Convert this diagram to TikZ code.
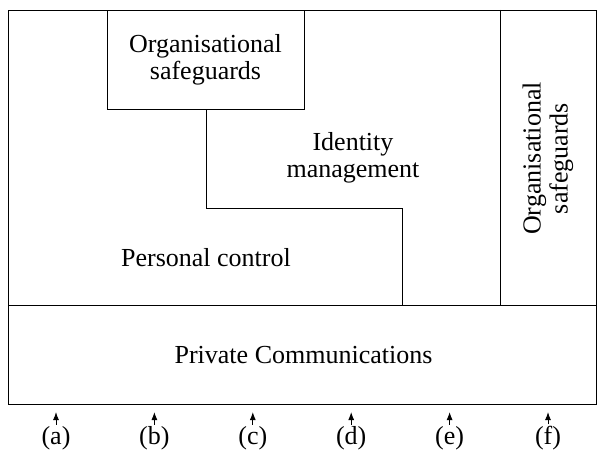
\documentclass[tikz,border=0pt]{standalone}
\usepackage{fontspec}
\setmainfont{Liberation Serif}
\usetikzlibrary{arrows.meta}
\begin{document}
\begin{tikzpicture}[x=1pt,y=-1pt,
  line/.style={draw=black,line width=0.9pt},
  txt/.style={font=\fontsize{26}{27}\selectfont,align=center,inner sep=0pt},
  lbl/.style={font=\fontsize{26}{27}\selectfont,inner sep=1pt,anchor=base},
  arr/.style={-{Latex[length=8pt,width=6pt]},line width=1pt}]
\useasboundingbox (0,0) rectangle (597,452);
% outer regions
\draw[line] (8,10) rectangle (596,305);
\node[line,minimum width=588pt,minimum height=99pt,inner sep=0pt,anchor=north west] (pc) at (8,305) {};
\node[txt,anchor=base] (pctext) at (303.5,363) {Private Communications};
% right organisational safeguards column
\draw[line] (500,10) -- (500,305);
\node[txt,rotate=90] (os2) at (548,158.5) {Organisational\\safeguards};
% top organisational safeguards box
\node[line,txt,minimum width=197pt,minimum height=99pt,anchor=north west] (os1) at (107,10) {};
\node[txt] (os1text) at (205.5,60) {Organisational\\safeguards};
% identity management step
\coordinate (s1) at (206,109);
\coordinate (s2) at (206,208);
\coordinate (s3) at (402,208);
\coordinate (s4) at (402,305);
\draw[line] (s1) -- (s2) -- (s3) -- (s4);
\node[txt] (im) at (353,158) {Identity\\management};
\node[txt,anchor=base] (pers) at (206,266) {Personal control};
% bottom labels and arrows
\foreach \l [count=\i from 0] in {a,b,c,d,e,f}{
  \node[lbl] (l\l) at ({56+98.4*\i},444) {(\l)};
  \coordinate (t\l) at ({56+98.4*\i},412);
  \draw[arr] (l\l.north) -- (t\l);
}
\end{tikzpicture}
\end{document}
